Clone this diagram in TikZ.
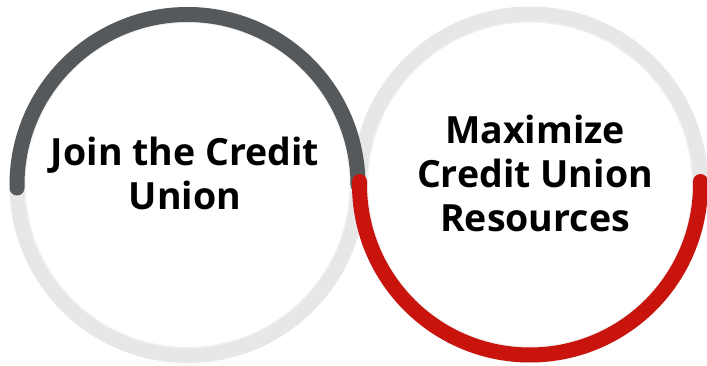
\documentclass[tikz,border=0pt]{standalone}
\usepackage{fontspec}
\setmainfont{Open Sans}
\definecolor{ringlight}{HTML}{E7E7E7}
\definecolor{ringdark}{HTML}{55595C}
\definecolor{ringred}{HTML}{C8140C}
\begin{document}
\begin{tikzpicture}[x=1pt,y=1pt,
  ring/.style={line width=15pt},
  arcpart/.style={line width=15pt,line cap=round},
  label/.style={align=center,inner sep=0pt,font=\bfseries\fontsize{37.5}{44}\selectfont,text=black}]
\useasboundingbox[fill=white] (0,0) rectangle (707,365);
\coordinate (cl) at (187.5,180);
\coordinate (cr) at (530,180.5);
\draw[ring,ringlight] (cl) circle[radius=170.5];
\draw[ring,ringlight] (cr) circle[radius=170.5];
\draw[gray!12,line width=1.2pt] (cl) circle[radius=162.5];
\draw[gray!12,line width=1.2pt] (cr) circle[radius=162.5];
\draw[arcpart,ringdark] (cl) ++(181:170.5) arc[start angle=181,end angle=0,radius=170.5];
\draw[arcpart,ringred] (cr) ++(179:170.5) arc[start angle=179,end angle=361,radius=170.5];
\node[label,anchor=north] (t1) at (185,228) {Join the Credit\\Union};
\node[label,anchor=north] (t2) at (535,250) {Maximize\\Credit Union\\Resources};
\end{tikzpicture}
\end{document}
